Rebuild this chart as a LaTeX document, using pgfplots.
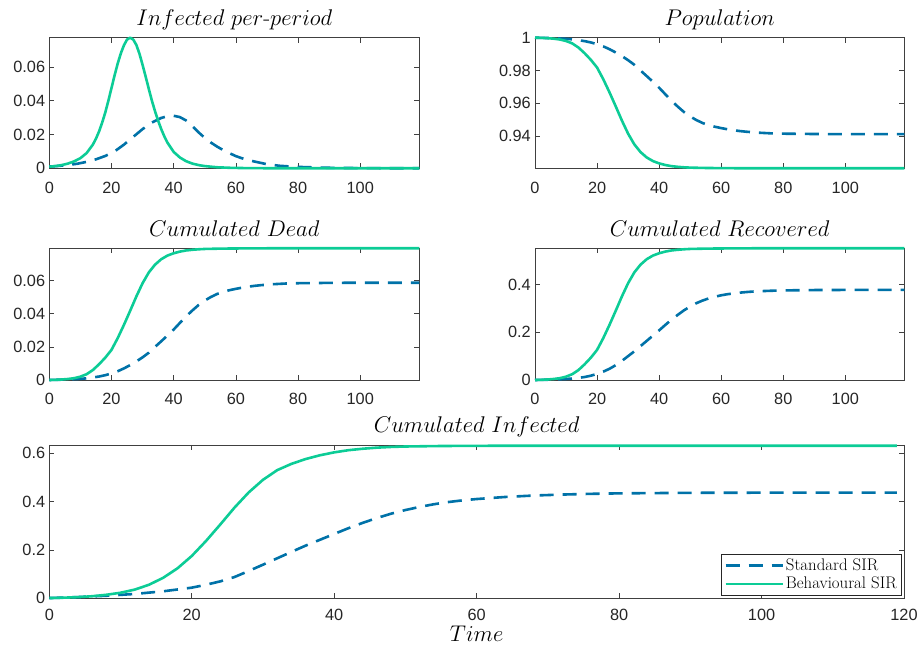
\RequirePackage{fix-cm}
\documentclass[border=0pt]{standalone}
\usepackage{fontspec}
\usepackage{pgfplots}
\pgfplotsset{compat=1.18}
\newfontfamily\ticksf{Liberation Sans}
\definecolor{sirblue}{RGB}{0,114,168}
\definecolor{sirgreen}{RGB}{12,204,150}
\definecolor{tickgray}{RGB}{38,38,38}
\newcommand\legfont{\fontsize{16.8}{19}\selectfont}
\pgfplotsset{
  sirbase/.style={
    scale only axis, anchor=south west,
    axis line style={draw=black!75, line width=0.7pt},
    every tick/.style={draw=black!75, line width=0.7pt},
    major tick length=5pt,
    tick align=inside,
    xtick pos=both, ytick pos=both,
    xticklabel pos=bottom, yticklabel pos=left,
    tick label style={font=\ticksf\fontsize{16.3}{18}\selectfont, text=tickgray},
    /pgf/number format/assume math mode=true,
    /pgf/number format/fixed, /pgf/number format/precision=2,
    scaled y ticks=false, scaled x ticks=false,
    xticklabel style={anchor=base, yshift=-25pt, inner sep=0pt},
    yticklabel style={anchor=east, inner sep=0pt, xshift=-4pt},
    every axis title shift=0pt,
    title style={font=\fontsize{22.7}{27}\selectfont, at={(0.5,1)}, anchor=base, yshift=12pt, inner sep=0pt},
    xmin=0, xmax=119, xtick={0,20,...,100},
    clip=false,
  },
  stdsir/.style={color=sirblue, line width=2.6pt, dash pattern=on 14pt off 9pt, line join=round},
  behsir/.style={color=sirgreen, line width=2.6pt, solid, line join=round},
}
\begin{document}
\begin{tikzpicture}
\useasboundingbox (0,0) rectangle (922pt,646pt);
% ---------- Infected per-period
\begin{axis}[sirbase, at={(49.3pt,477.7pt)}, width=370pt, height=130.6pt,
  ymin=0, ymax=0.0773, ytick={0,0.02,0.04,0.06},
  title={$Infected\ per\mbox{-}period$}]
\addplot[stdsir] coordinates {
(0,0.0010)(3,0.0014)(6,0.0019)(9,0.0027)(12,0.0038)(15,0.0053)(18,0.0073)(21,0.0100)(24,0.0140)(27,0.0186)(30,0.0232)(33,0.0271)(36,0.0298)(38,0.0308)(40,0.0311)(42,0.0303)(44,0.0283)(46,0.0250)(48,0.0213)(50,0.0180)(52,0.0152)(54,0.0128)(56,0.0107)(58,0.0089)(60,0.0072)(63,0.0053)(66,0.0040)(70,0.0024)(74,0.0015)(78,0.0010)(82,0.0007)(90,0.0003)(100,0.0001)(110,0.00003)(119,0.00001)};
\addplot[behsir] coordinates {
(0,0.0009)(2,0.0013)(4,0.0019)(6,0.0028)(8,0.0041)(10,0.0060)(12,0.0090)(14,0.0140)(15,0.0175)(16,0.0218)(17,0.0270)(18,0.0330)(19,0.0400)(20,0.0475)(21,0.0550)(22,0.0620)(23,0.0680)(24,0.0728)(25,0.0762)(26,0.0773)(27,0.0762)(28,0.0730)(29,0.0678)(30,0.0612)(31,0.0542)(32,0.0470)(33,0.0400)(34,0.0338)(35,0.0282)(36,0.0232)(37,0.0189)(38,0.0152)(40,0.0097)(42,0.0064)(44,0.0042)(46,0.0028)(48,0.0019)(50,0.0013)(54,0.0006)(58,0.0003)(62,0.00015)(70,0.00004)(80,0.00001)(119,0)};
\end{axis}
% ---------- Population
\begin{axis}[sirbase, at={(535pt,477.7pt)}, width=369.3pt, height=130.6pt,
  ymin=0.9204, ymax=1, ytick={0.94,0.96,0.98,1},
  title={$Population$}]
\addplot[stdsir] coordinates {
(0,1.0000)(2,0.9999)(4,0.9998)(6,0.9997)(8,0.9995)(10,0.9993)(12,0.9990)(14,0.9985)(16,0.9979)(18,0.9971)(20,0.9960)(22,0.9947)(24,0.9930)(26,0.9910)(28,0.9888)(30,0.9863)(32,0.9835)(34,0.9800)(36,0.9766)(38,0.9731)(40,0.9695)(42,0.9655)(44,0.9615)(46,0.9580)(48,0.9547)(50,0.9520)(52,0.9498)(54,0.9480)(56,0.9467)(58,0.9457)(60,0.9449)(62,0.9442)(64,0.9436)(66,0.9431)(68,0.9427)(72,0.9421)(76,0.9417)(80,0.9415)(90,0.9413)(100,0.9412)(119,0.9412)};
\addplot[behsir] coordinates {
(0,1.0000)(2,0.9999)(4,0.9997)(6,0.9994)(8,0.9989)(10,0.9980)(12,0.9965)(14,0.9940)(16,0.9905)(18,0.9865)(20,0.9818)(22,0.9747)(24,0.9667)(26,0.9582)(28,0.9495)(30,0.9415)(32,0.9350)(34,0.9303)(36,0.9270)(38,0.9248)(40,0.9234)(42,0.9224)(44,0.9217)(46,0.9213)(48,0.9210)(50,0.9208)(55,0.9206)(60,0.9205)(70,0.9204)(119,0.9204)};
\end{axis}
% ---------- Cumulated Dead
\begin{axis}[sirbase, at={(49.3pt,266pt)}, width=370pt, height=131.7pt,
  ymin=0, ymax=0.0796, ytick={0,0.02,0.04,0.06},
  title={$Cumulated\ Dead$}]
\addplot[stdsir] coordinates {
(0,0.0000)(2,0.0001)(4,0.0002)(6,0.0003)(8,0.0005)(10,0.0007)(12,0.0010)(14,0.0015)(16,0.0021)(18,0.0029)(20,0.0040)(22,0.0053)(24,0.0070)(26,0.0090)(28,0.0112)(30,0.0137)(32,0.0165)(34,0.0200)(36,0.0234)(38,0.0269)(40,0.0305)(42,0.0345)(44,0.0385)(46,0.0420)(48,0.0453)(50,0.0480)(52,0.0502)(54,0.0520)(56,0.0533)(58,0.0543)(60,0.0551)(62,0.0558)(64,0.0564)(66,0.0569)(68,0.0573)(72,0.0579)(76,0.0583)(80,0.0585)(90,0.0587)(100,0.0588)(119,0.0588)};
\addplot[behsir] coordinates {
(0,0.0000)(2,0.0001)(4,0.0003)(6,0.0006)(8,0.0011)(10,0.0020)(12,0.0035)(14,0.0060)(16,0.0095)(18,0.0135)(20,0.0182)(22,0.0253)(24,0.0333)(26,0.0418)(28,0.0505)(30,0.0585)(32,0.0650)(34,0.0697)(36,0.0730)(38,0.0752)(40,0.0766)(42,0.0776)(44,0.0783)(46,0.0787)(48,0.0790)(50,0.0792)(55,0.0794)(60,0.0795)(70,0.0796)(119,0.0796)};
\end{axis}
% ---------- Cumulated Recovered
\begin{axis}[sirbase, at={(535pt,266pt)}, width=369.3pt, height=131.7pt,
  ymin=0, ymax=0.552, ytick={0,0.2,0.4},
  title={$Cumulated\ Recovered$}]
\addplot[stdsir] coordinates {
(0,0.0000)(2,0.0005)(4,0.0012)(6,0.0020)(8,0.0030)(10,0.0043)(12,0.0062)(14,0.0088)(16,0.0125)(18,0.0180)(20,0.0255)(22,0.0350)(24,0.0470)(26,0.0620)(28,0.0800)(30,0.1000)(32,0.1200)(34,0.1420)(36,0.1640)(38,0.1860)(40,0.2080)(42,0.2310)(44,0.2530)(46,0.2730)(48,0.2920)(50,0.3080)(52,0.3220)(54,0.3330)(56,0.3420)(58,0.3490)(60,0.3550)(62,0.3595)(64,0.3630)(66,0.3660)(68,0.3685)(70,0.3705)(72,0.3720)(76,0.3740)(80,0.3755)(90,0.3770)(100,0.3775)(119,0.3775)};
\addplot[behsir] coordinates {
(0,0.0000)(2,0.0007)(4,0.0021)(6,0.0042)(8,0.0076)(10,0.0139)(12,0.0243)(14,0.0416)(16,0.0659)(18,0.0936)(20,0.1262)(22,0.1755)(24,0.2309)(26,0.2899)(28,0.3502)(30,0.4057)(32,0.4508)(34,0.4834)(36,0.5063)(38,0.5215)(40,0.5312)(42,0.5382)(44,0.5430)(46,0.5458)(48,0.5479)(50,0.5493)(55,0.5506)(60,0.5513)(70,0.5520)(119,0.5520)};
\end{axis}
% ---------- Cumulated Infected
\begin{axis}[sirbase, at={(49.3pt,47.7pt)}, width=854.7pt, height=153.3pt,
  xmax=120, xtick={0,20,...,120},
  xticklabel style={yshift=3pt},
  ymin=0, ymax=0.634, ytick={0,0.2,0.4,0.6},
  title={$Cumulated\ Infected$},
  xlabel={$Time$},
  xlabel style={font=\fontsize{22.7}{27}\selectfont, at={(0.5,0)}, anchor=base, yshift=-43pt, inner sep=0pt},
  legend style={at={(1,0)}, anchor=south east, xshift=-2pt, yshift=2.5pt,
    draw=black!85, line width=0.6pt, fill=white,
    font=\legfont, inner xsep=3pt, inner ysep=3pt,
    row sep=1pt},
  legend cell align=left,
  legend image code/.code={\draw[#1] (0pt,0pt) -- (57pt,0pt);},
  ]
\addplot[stdsir] coordinates {
(0,0.0010)(4,0.0050)(8,0.0105)(12,0.0180)(16,0.0290)(20,0.0440)(22,0.0560)(24,0.0700)(26,0.0880)(28,0.1130)(30,0.1390)(32,0.1655)(34,0.1920)(36,0.2180)(38,0.2420)(40,0.2660)(42,0.2900)(44,0.3120)(46,0.3320)(48,0.3500)(50,0.3650)(52,0.3780)(54,0.3890)(56,0.3980)(58,0.4050)(60,0.4105)(64,0.4190)(68,0.4250)(72,0.4290)(76,0.4320)(80,0.4340)(90,0.4362)(100,0.4368)(119,0.4370)};
\addlegendentry{\legfont Standard SIR}
\addplot[behsir] coordinates {
(0,0.0010)(2,0.0025)(4,0.0048)(6,0.0085)(8,0.0145)(10,0.0230)(12,0.0360)(14,0.0560)(16,0.0850)(18,0.1240)(20,0.1750)(22,0.2370)(24,0.3050)(26,0.3750)(28,0.4380)(30,0.4900)(32,0.5300)(34,0.5560)(36,0.5760)(38,0.5915)(40,0.6035)(42,0.6125)(44,0.6185)(46,0.6230)(48,0.6260)(50,0.6278)(55,0.6298)(60,0.6306)(70,0.6310)(119,0.6310)};
\addlegendentry{\legfont Behavioural SIR}
\end{axis}
\end{tikzpicture}
\end{document}
